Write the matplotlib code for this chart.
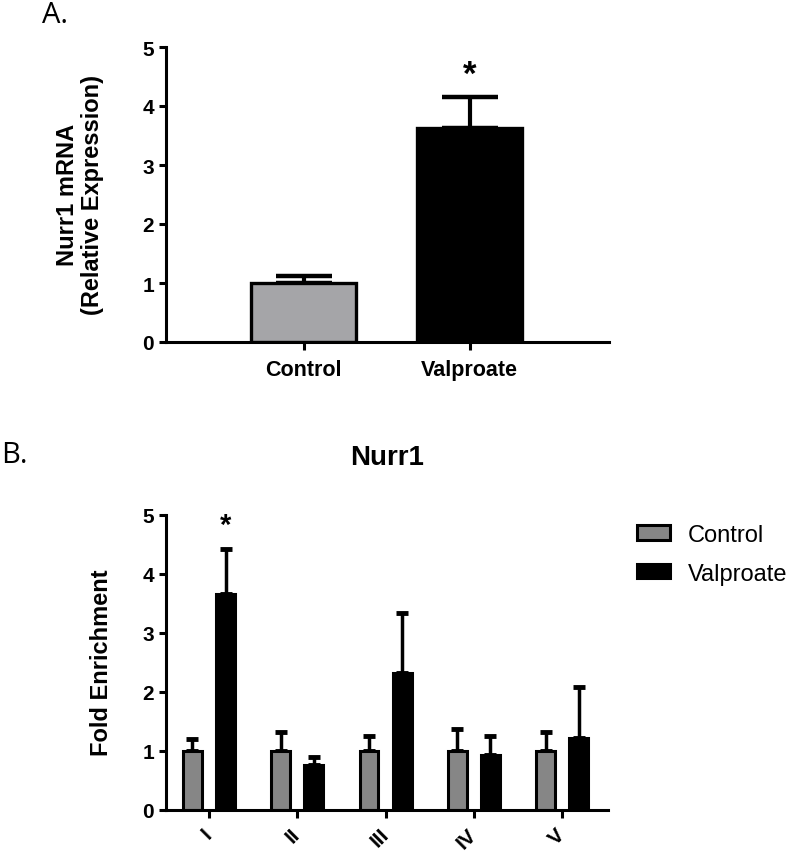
import matplotlib
matplotlib.use("Agg")
import matplotlib.pyplot as plt
import numpy as np

plt.rcParams['font.family'] = ['Liberation Sans', 'DejaVu Sans']

# panel A data
groups_a = ['Control', 'Valproate']
mrna_mean = [1.0, 3.63]
mrna_err = [0.12, 0.53]

# panel B data
regions = ['I', 'II', 'III', 'IV', 'V']
ctrl_mean = [1.0, 1.0, 1.0, 1.0, 1.0]
ctrl_err = [0.21, 0.32, 0.25, 0.37, 0.33]
valp_mean = [3.66, 0.76, 2.33, 0.94, 1.22]
valp_err = [0.76, 0.13, 1.01, 0.31, 0.87]
signif = [True, False, False, False, False]

W, H = 787, 853
fig = plt.figure(figsize=(W / 100, H / 100), dpi=100)

def box(l, t, r, b):
    return [l / W, 1 - b / H, (r - l) / W, (b - t) / H]

def style(ax):
    for s in ['top', 'right']:
        ax.spines[s].set_visible(False)
    for s in ['left', 'bottom']:
        ax.spines[s].set_linewidth(2.2)
    ax.tick_params(width=2.2, length=5, labelsize=15)
    ax.set_ylim(0, 5)
    ax.set_yticks(range(6))
    for t in ax.get_yticklabels():
        t.set_fontweight('bold')

# ---- A ----
ax1 = fig.add_axes(box(166, 48, 609, 343))
style(ax1)
xa = np.arange(len(groups_a))
ax1.bar(xa, mrna_mean, width=0.63, color=['#a5a5a8', 'black'],
        edgecolor='black', linewidth=2.4, zorder=2)
ax1.errorbar(xa, mrna_mean, yerr=[[0, 0], mrna_err], fmt='none',
             ecolor='black', elinewidth=3, capsize=20, capthick=3.2, zorder=1)
ax1.text(1, mrna_mean[1] + mrna_err[1] + 0.38, '*', ha='center', va='center',
         fontsize=25, fontweight='bold')
ax1.set_xlim(-0.83, 1.84)
ax1.set_xticks(xa)
ax1.set_xticklabels(groups_a, fontsize=15.5, fontweight='bold')
ax1.tick_params(axis='x', length=6, pad=6)
fig.text(80 / W, 1 - 195 / H, 'Nurr1 mRNA\n(Relative Expression)', rotation=90,
         ha='center', va='center', multialignment='center',
         fontsize=17, fontweight='bold', linespacing=1.1)
fig.text(42 / W, 1 - 23 / H, 'A.', fontsize=21, family=['Open Sans', 'DejaVu Sans'],
         va='baseline')

# ---- B ----
ax2 = fig.add_axes(box(166, 516, 608, 811))
style(ax2)
xb = np.arange(len(regions))
off, bw = 0.1875, 0.215
b1 = ax2.bar(xb - off, ctrl_mean, width=bw, color='#868686', edgecolor='black',
             linewidth=2.2, zorder=2, label='Control')
b2 = ax2.bar(xb + off, valp_mean, width=bw, color='black', edgecolor='black',
             linewidth=2.2, zorder=2, label='Valproate')
ax2.errorbar(xb - off, ctrl_mean, yerr=[np.zeros(5), ctrl_err], fmt='none',
             ecolor='black', elinewidth=2.5, capsize=4.5, capthick=3.5, zorder=1)
ax2.errorbar(xb + off, valp_mean, yerr=[np.zeros(5), valp_err], fmt='none',
             ecolor='black', elinewidth=2.5, capsize=4.5, capthick=3.5, zorder=1)
for i, s in enumerate(signif):
    if s:
        ax2.text(xb[i] + off, valp_mean[i] + valp_err[i] + 0.42, '*', ha='center',
                 va='center', fontsize=21, fontweight='bold')
ax2.set_xlim(-0.487, 4.52)
ax2.set_xticks(xb)
ax2.set_xticklabels(regions, fontsize=15, fontweight='bold', rotation=45,
                    ha='right', va='center', rotation_mode='anchor')
ax2.tick_params(axis='x', length=6, pad=9)
ax2.set_title('Nurr1', fontsize=20, fontweight='bold', pad=37)
fig.text(102 / W, 1 - 663 / H, 'Fold Enrichment', rotation=90, ha='center',
         va='center', fontsize=17, fontweight='bold')
fig.text(0.002, 1 - 463 / H, 'B.', fontsize=21, family=['Open Sans', 'DejaVu Sans'],
         va='baseline')

fig.legend(handles=[b1, b2], loc='upper left', bbox_to_anchor=(637 / W, 1 - 525 / H),
           frameon=False, fontsize=17, borderpad=0, borderaxespad=0,
           handlelength=1.4, handleheight=0.57, handletextpad=0.75, labelspacing=0.7)

fig.savefig('out.png', dpi=100)
